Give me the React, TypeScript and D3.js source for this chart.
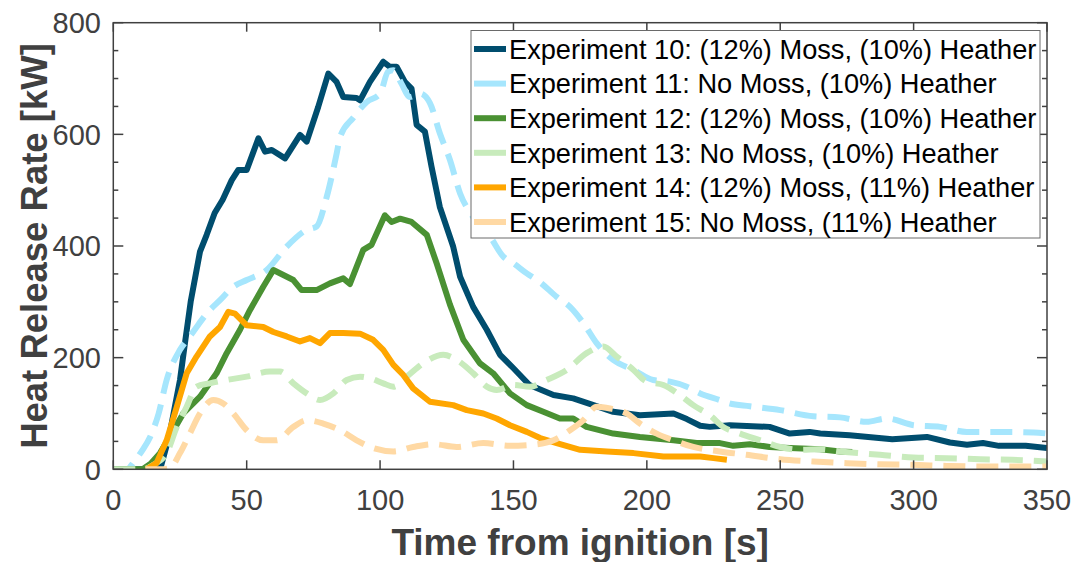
import React, { useEffect, useRef } from "react";
import * as d3 from "d3";

type P = [number, number];

const exp10: P[] = [[0,0],[15,0],[18,8],[21,60],[23,110],[25,160],[27,231],[29,300],[32.5,390],[35,420],[38,459],[41,483],[44.4,518],[46.8,536],[50,536],[54.4,593],[56.9,569],[59.4,572],[64.4,557],[70,599],[72.5,587],[76.8,649],[80.6,709],[83.7,694],[86.2,667],[91.2,665],[92.5,661],[96.2,694],[101.2,730],[103.7,721],[106.2,721],[109.3,694],[111.8,682],[113.7,617],[116.8,605],[119.3,542],[122.4,470],[127.4,399],[130,345],[134.9,291],[140,250],[145,205],[150,181],[156,151],[165,133],[172.4,127],[180,115],[187.4,103],[197.4,97],[210,100],[215,90],[220,78],[223.6,76],[231,79],[246,76],[253.6,64],[261,67],[265,64],[276,61],[292,54],[305,58],[313.6,48],[320,44],[326,47],[332,42],[342,42],[350,38]];

const exp11: P[] = [[0,0],[5,0],[8,15],[11,35],[13.8,58],[17,100],[20,160],[25,214],[28.7,238],[32,260],[35,279],[40,303],[45,327],[50,339],[57.5,357],[65,399],[72.5,429],[76.2,435],[80,488],[83.7,565],[85,595],[90,630],[95,658],[100,673],[103,712],[105,715],[108,691],[111.2,667],[115,673],[118.7,656],[122.4,602],[126.2,554],[130,494],[134.9,452],[141.2,417],[146.2,381],[150,369],[155,351],[160,335],[166.2,309],[171.2,291],[176.2,262],[181.2,226],[187.4,196],[195,178],[202.4,160],[208.7,157],[215,148],[220,136],[227.4,124],[231,118],[238.6,113],[250,106],[262.4,95],[272.4,93],[282.4,85],[290,91],[300,79],[310,76],[320,67],[332,67],[345,66],[350,64]];

const exp12: P[] = [[0,0],[11,0],[14,10],[17.5,29],[22,65],[26.2,100],[32.5,130],[38.7,172],[42.5,208],[47.5,250],[51.2,285],[56.2,327],[60,357],[67.5,339],[70.6,321],[76.2,321],[81.2,333],[86.2,342],[88.7,332],[93.7,393],[96.8,402],[101.8,455],[104.3,443],[107.5,449],[111.8,443],[117.5,420],[121.2,369],[126.2,295],[131.2,232],[137.4,190],[142.4,172],[148.7,136],[155,115],[161.2,103],[167.4,91],[172.4,91],[177.4,76],[187.4,64],[197.4,58],[210,52],[218.7,47],[227.4,47],[232.4,42],[238.6,45],[246,40],[253.6,38],[265,36],[272.4,32],[277,31]];

const exp13: P[] = [[0,0],[11,0],[15,8],[20,29],[23.8,76],[27.5,112],[31.2,148],[36.2,154],[42.5,160],[50,166],[58.7,175],[62.5,175],[67.5,154],[72.5,136],[77.5,124],[82.5,136],[87.5,160],[92.5,166],[96.2,163],[101.2,154],[105,148],[110,166],[116.2,190],[123.7,205],[128.7,196],[134.9,172],[140,148],[143.7,142],[150,151],[156.2,148],[162.4,160],[170,178],[177.4,208],[183.7,220],[188.7,202],[195,178],[200,157],[206.2,151],[212.4,133],[217.4,115],[223.6,97],[228.6,76],[235,64],[242.5,52],[250,40],[257.4,35],[265,36],[272.4,32],[287.4,26],[300,21],[312.4,20],[325,18],[337,17],[350,14]];

const exp14: P[] = [[12.5,0],[16.2,11],[20,52],[23.8,112],[27.5,172],[31.2,202],[36.2,238],[40,255],[43.1,282],[45.6,279],[50,258],[56.2,255],[60,246],[65,238],[70,229],[73.7,235],[77.5,226],[81.2,244],[86.2,244],[92.5,243],[97.4,232],[101.2,214],[105,187],[108.7,169],[112.4,145],[118.7,121],[127.4,115],[132.5,106],[138.7,100],[143.7,91],[148.7,79],[155,67],[160,56],[166.2,47],[175,35],[185,32],[195,29],[206.2,23],[212.4,23],[220,23],[225,20],[230,17]];

const exp15: P[] = [[12,0],[17.5,0],[21.2,2],[25,29],[28.7,64],[32.5,100],[37.5,124],[41.2,118],[45,100],[50,70],[56.2,52],[61.2,52],[67.5,76],[72.5,88],[78.7,82],[85,70],[91.2,52],[97.4,38],[105,32],[112.4,40],[120,45],[128.7,40],[138.7,47],[148.7,42],[157.4,44],[165,52],[171.2,70],[176.2,88],[181.2,112],[186.2,109],[192.4,100],[197.4,82],[203.7,64],[210,52],[217.4,40],[227.4,32],[237.4,26],[250,18],[262.4,14],[275,11],[287.4,9],[300,8],[312.4,6],[325,5],[350,5]];

const seriesNames = [
  "Experiment 10: (12%) Moss, (10%) Heather",
  "Experiment 11: No Moss, (10%) Heather",
  "Experiment 12: (12%) Moss, (10%) Heather",
  "Experiment 13: No Moss, (10%) Heather",
  "Experiment 14: (12%) Moss, (11%) Heather",
  "Experiment 15: No Moss, (11%) Heather",
];
const seriesData = [exp10, exp11, exp12, exp13, exp14, exp15];
const seriesColors = ["#004d6e", "#a6e6fd", "#4a9133", "#c8ebbc", "#ffa600", "#ffd9a4"];
const seriesDashed = [false, true, false, true, false, true];

const xTicks = [0, 50, 100, 150, 200, 250, 300, 350];
const yTicks = [0, 200, 400, 600, 800];
const yMinorTicks = d3.range(0, 801, 50);

const xLabel = "Time from ignition [s]";
const yLabel = "Heat Release Rate [kW]";

const W = 1075, H = 562;
const M = { left: 113.3, right: 1047, top: 22.7, bottom: 469.3 };
const axisColor = "#404040";
const font = "'Liberation Sans', Arial, sans-serif";

export default function App() {
  const ref = useRef<SVGSVGElement>(null);
  useEffect(() => {
    const svg = d3.select(ref.current);
    svg.selectAll("*").remove();
    const x = d3.scaleLinear().domain([0, 350]).range([M.left, M.right]);
    const y = d3.scaleLinear().domain([0, 800]).range([M.bottom, M.top]);

    svg.append("rect").attr("width", W).attr("height", H).attr("fill", "#fff");

    svg.append("defs").append("clipPath").attr("id", "clip")
      .append("rect").attr("x", M.left).attr("y", M.top)
      .attr("width", M.right - M.left).attr("height", M.bottom - M.top);

    const lines = svg.append("g").attr("clip-path", "url(#clip)");
    seriesData.forEach((data, i) => {
      const line = d3.line<P>()
        .x(d => x(d[0])).y(d => y(d[1]))
        .curve(seriesDashed[i] ? d3.curveMonotoneX : d3.curveLinear);
      lines.append("path")
        .attr("d", line(data))
        .attr("fill", "none")
        .attr("stroke", seriesColors[i])
        .attr("stroke-width", 6)
        .attr("stroke-linejoin", "round")
        .attr("stroke-dasharray", seriesDashed[i] ? "22,11" : null);
    });

    const ax = svg.append("g").attr("stroke", axisColor).attr("stroke-width", 1.5).attr("fill", "none");
    ax.append("rect").attr("x", M.left).attr("y", M.top)
      .attr("width", M.right - M.left).attr("height", M.bottom - M.top);
    xTicks.forEach(t => {
      ax.append("line").attr("x1", x(t)).attr("x2", x(t)).attr("y1", M.bottom).attr("y2", M.bottom - 9);
      ax.append("line").attr("x1", x(t)).attr("x2", x(t)).attr("y1", M.top).attr("y2", M.top + 9);
    });
    yMinorTicks.forEach(v => {
      const len = v % 200 === 0 ? 10 : 5;
      ax.append("line").attr("x1", M.left).attr("x2", M.left + len).attr("y1", y(v)).attr("y2", y(v));
      ax.append("line").attr("x1", M.right).attr("x2", M.right - len).attr("y1", y(v)).attr("y2", y(v));
    });

    const tl = svg.append("g").attr("fill", axisColor).attr("font-family", font).attr("font-size", 29);
    xTicks.forEach(t => {
      tl.append("text").attr("x", x(t)).attr("y", 510).attr("text-anchor", "middle").text(String(t));
    });
    yTicks.forEach(v => {
      tl.append("text").attr("x", 101).attr("y", y(v)).attr("dy", "0.36em").attr("text-anchor", "end").text(String(v));
    });

    svg.append("text").attr("x", (M.left + M.right) / 2).attr("y", 555)
      .attr("text-anchor", "middle").attr("font-family", font).attr("font-weight", "bold")
      .attr("font-size", 37).attr("fill", axisColor).text(xLabel);
    svg.append("text").attr("transform", `translate(47,${(M.top + M.bottom) / 2}) rotate(-90)`)
      .attr("text-anchor", "middle").attr("font-family", font).attr("font-weight", "bold")
      .attr("font-size", 36.5).attr("fill", axisColor).text(yLabel);

    const lg = svg.append("g");
    lg.append("rect").attr("x", 471).attr("y", 30.5).attr("width", 569).attr("height", 207.5)
      .attr("fill", "#fff").attr("stroke", "#6a6a6a").attr("stroke-width", 1);
    seriesNames.forEach((name, i) => {
      const cy = 49 + i * 34.6;
      lg.append("line").attr("x1", 474).attr("x2", 506).attr("y1", cy).attr("y2", cy)
        .attr("stroke", seriesColors[i]).attr("stroke-width", 6);
      lg.append("text").attr("x", 509).attr("y", cy).attr("dy", "0.36em")
        .attr("font-family", font).attr("font-size", 27.2).attr("fill", "#000").text(name);
    });
  }, []);
  return (
    <svg ref={ref} width={W} height={H} style={{ position: "absolute", left: 0, top: 0 }} />
  );
}
